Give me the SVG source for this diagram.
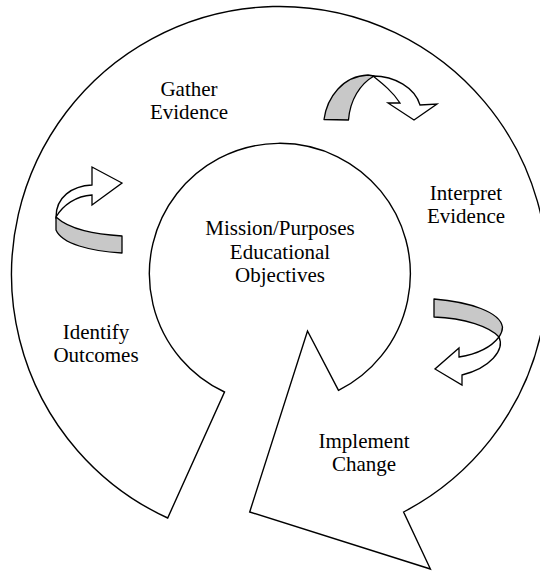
<svg xmlns="http://www.w3.org/2000/svg" width="540" height="572" viewBox="0 0 540 572">
<style>
.shape{fill:#fff;stroke:#000;stroke-width:1.4;stroke-linejoin:miter}
.band{fill:#c8c8c8;stroke:#000;stroke-width:1.3;stroke-linejoin:round}
.head{fill:#fff;stroke:#000;stroke-width:1.3;stroke-linejoin:miter}
text{font-family:'Liberation Serif','DejaVu Serif',serif;font-size:21px;fill:#000;text-anchor:middle}
</style>
<rect width="540" height="572" fill="#fff"/>
<g id="cycle">
<path class="shape" d="M 338.5 390.4 L 307.5 331 L 249.7 512 L 430.4 569 L 403.6 512 A 268 268 0 1 0 167.7 518 L 224.5 392 A 130.5 130.5 0 1 1 338.5 390.4 Z"/>
</g>
<g id="connectors">
<g id="arrow-gather-interpret">
<path class="band" d="M 324 119.5 C 327 97, 343 76, 368 75 L 374 76 C 360 84, 350 100, 348.5 120 Z"/>
<path class="head" d="M 373 76 C 395 76, 415 88, 420 105 L 437 104 L 414 120 L 388 103 L 400 103 C 393 92, 383 84, 373 76 Z"/>
</g>
<g id="arrow-identify-gather">
<path class="band" d="M 56 217 C 70 230, 95 234, 122 236 L 122 253 C 90 251, 62 244, 56 230 Z"/>
<path class="head" d="M 56 217 C 56 197, 72 186, 92 185 L 92 167 L 122 183 L 92 205 L 92 195 C 76 196, 63 205, 56 217 Z"/>
</g>
<g id="arrow-interpret-implement">
<path class="band" d="M 434 299 C 470 302, 500 312, 502.5 327 C 502.5 331, 501 334, 499 337 C 490 327, 465 318, 434 317 Z"/>
<path class="head" d="M 499 337 C 505 350, 490 368, 462 375 L 462 385 L 435 369 L 459 348 L 459 357 C 478 354, 492 346, 499 337 Z"/>
</g>
</g>
<g id="center">
<text x="280" y="235" font-family="Liberation Serif">Mission/Purposes</text>
<text x="280" y="259" font-family="Liberation Serif">Educational</text>
<text x="280" y="282" font-family="Liberation Serif">Objectives</text>
</g>
<g id="gather">
<text x="189" y="96" font-family="Liberation Serif">Gather</text>
<text x="189" y="119" font-family="Liberation Serif">Evidence</text>
</g>
<g id="interpret">
<text x="466" y="200" font-family="Liberation Serif">Interpret</text>
<text x="466" y="223" font-family="Liberation Serif">Evidence</text>
</g>
<g id="identify">
<text x="96" y="339" font-family="Liberation Serif">Identify</text>
<text x="96" y="362" font-family="Liberation Serif">Outcomes</text>
</g>
<g id="implement">
<text x="364" y="448" font-family="Liberation Serif">Implement</text>
<text x="364" y="471" font-family="Liberation Serif">Change</text>
</g>
</svg>
